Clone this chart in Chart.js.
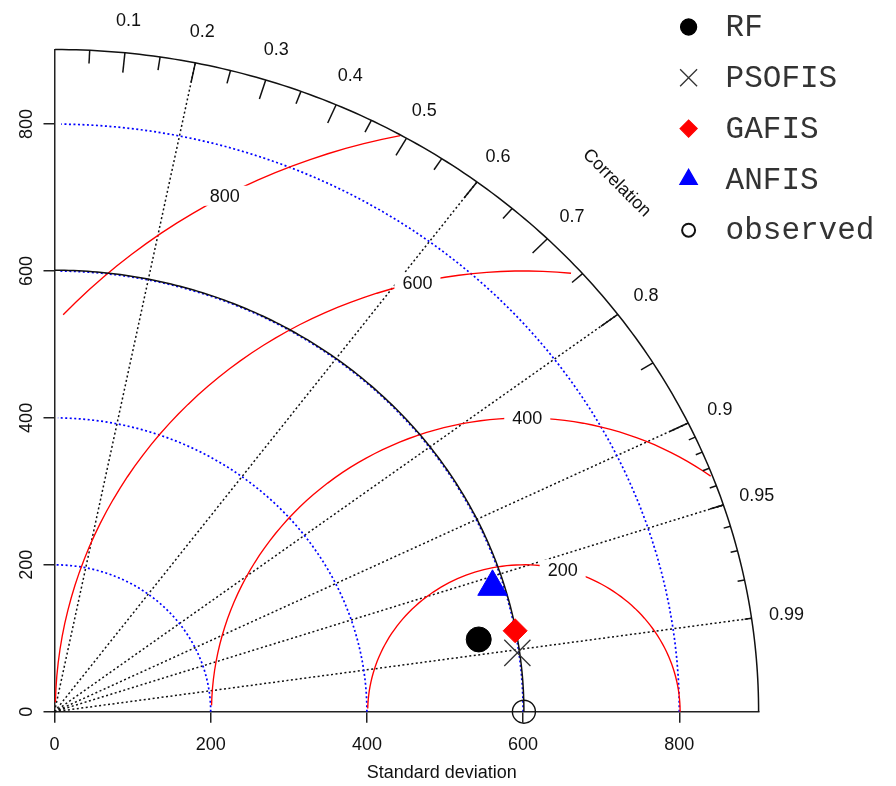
<!DOCTYPE html>
<html lang="en">
  <head>
    <meta charset="UTF-8" />
    <title>Taylor diagram</title>
    <script src="https://cdn.jsdelivr.net/npm/chart.js"></script>
    <style>
      body { margin: 0; background: #fff; }
      #wrap { width: 896px; height: 786px; }
    </style>
  </head>
  <body>
    <div id="wrap"><canvas id="taylor"></canvas></div>

    <script>
      // values
      const modelNames = ['RF', 'PSOFIS', 'GAFIS', 'ANFIS']
      const modelSd = [552, 598, 600, 586]
      const modelCor = [0.984, 0.991, 0.983, 0.957]
      const observedSd = 601
      const sdTicks = [0, 200, 400, 600, 800]
      const corrTickLabels = [0.1, 0.2, 0.3, 0.4, 0.5, 0.6, 0.7, 0.8, 0.9, 0.95, 0.99]
      const corrGridLines = [0.2, 0.6, 0.8, 0.9, 0.95, 0.99]
      const rmsContours = [200, 400, 600, 800]

      const sdMax = 1.5 * observedSd
      const FONT = "'Liberation Sans', Arial, sans-serif"
      const MONO = "'Liberation Mono', 'Courier New', monospace"

      const toXY = (sd, cor) => ({ x: sd * cor, y: sd * Math.sqrt(1 - cor * cor) })

      const modelStyles = [
        { pointStyle: 'circle', pointRadius: 12.5, backgroundColor: '#000', borderColor: '#000', borderWidth: 1, legendRadius: 8 },
        { pointStyle: 'crossRot', pointRadius: 18.5, backgroundColor: '#333', borderColor: '#333', borderWidth: 1.3, legendRadius: 12 },
        { pointStyle: 'rectRot', pointRadius: 12, backgroundColor: '#ff0000', borderColor: '#ff0000', borderWidth: 1, legendRadius: 8.5 },
        { pointStyle: 'triangle', pointRadius: 17, backgroundColor: '#0000ff', borderColor: '#0000ff', borderWidth: 1, legendRadius: 10 },
      ]

      const datasets = modelNames.map((name, i) => ({
        label: name,
        data: [toXY(modelSd[i], modelCor[i])],
        clip: false,
        ...modelStyles[i],
      }))
      datasets.push({
        label: 'observed',
        data: [toXY(observedSd, 1)],
        clip: false,
        pointStyle: 'circle',
        pointRadius: 11.5,
        backgroundColor: 'rgba(0,0,0,0)',
        borderColor: '#111',
        borderWidth: 1.4,
        legendRadius: 6.5,
        legendBorder: 2,
      })

      // Taylor diagram frame: correlation rays, sd arcs, centred RMS contours
      const taylorFrame = {
        id: 'taylorFrame',
        beforeDatasetsDraw(chart) {
          const { ctx, scales: { x: xs, y: ys } } = chart
          const px = (vx, vy) => [xs.getPixelForValue(vx), ys.getPixelForValue(vy)]
          const pt = (r, a) => px(r * Math.cos(a), r * Math.sin(a))
          const poly = (pts) => {
            ctx.beginPath()
            pts.forEach((p, i) => (i ? ctx.lineTo(p[0], p[1]) : ctx.moveTo(p[0], p[1])))
            ctx.stroke()
          }
          const arc = (r, step, n) => {
            const pts = []
            for (let i = 0; i <= n; i++) pts.push(pt(r, step * i))
            return pts
          }
          const label = (text, p, size) => {
            ctx.font = size + 'px ' + FONT
            ctx.textAlign = 'center'
            ctx.textBaseline = 'alphabetic'
            ctx.fillText(text, p[0], p[1] + size * 0.36)
          }

          ctx.save()
          // correlation rays
          ctx.strokeStyle = '#111'
          ctx.lineWidth = 1.5
          ctx.setLineDash([2, 2.5])
          corrGridLines.forEach((c) => poly([pt(0, 0), pt(sdMax, Math.acos(c))]))

          // sd arcs
          ctx.strokeStyle = '#0000ff'
          ctx.lineWidth = 1.7
          sdTicks.forEach((s) => { if (s > 0) poly(arc(s, 0.03, 52)) })

          // centred RMS difference contours
          ctx.setLineDash([])
          ctx.lineWidth = 1.35
          rmsContours.forEach((g, gi) => {
            const xc = [], yc = []
            for (let i = 0; i < 105; i++) {
              xc.push(Math.cos(0.03 * i) * g + observedSd)
              yc.push(Math.sin(0.03 * i) * g)
            }
            let end = xc.findIndex((v) => v < 0)
            end = end >= 0 ? end - 1 : 104
            let start = 0
            for (let i = 0; i < 105; i++) if (xc[i] * xc[i] + yc[i] * yc[i] > sdMax * sdMax) start = i + 1
            const pts = []
            for (let i = start; i <= end; i++) pts.push(px(xc[i], yc[i]))
            ctx.strokeStyle = '#ff0000'
            poly(pts)
            const li = Math.floor(45 + (25 * gi) / (rmsContours.length - 1)) - 1
            if (xc[li] > 0) {
              const p = px(xc[li], yc[li])
              ctx.font = '18px ' + FONT
              const w = ctx.measureText(String(g)).width
              ctx.fillStyle = '#fff'
              ctx.fillRect(p[0] - w / 2 - 8, p[1] - 10, w + 16, 20)
              ctx.fillStyle = '#111'
              label(String(g), p, 18)
            }
          })

          // outer arc and correlation ticks
          ctx.strokeStyle = '#111'
          ctx.lineWidth = 1.5
          poly(arc(sdMax, 0.01, 157))
          const ticks = (vals, frac) => vals.forEach((c) => {
            const a = Math.acos(c)
            poly([pt(sdMax, a), pt(sdMax * frac, a)])
          })
          ticks([0.1, 0.2, 0.3, 0.4, 0.5, 0.6, 0.7, 0.8, 0.9], 0.97)
          ticks([0.05, 0.15, 0.25, 0.35, 0.45, 0.55, 0.65, 0.75, 0.85, 0.95], 0.98)
          ticks([0.91, 0.92, 0.93, 0.94, 0.95, 0.96, 0.97, 0.98, 0.99], 0.99)

          // observed standard deviation arc
          poly(arc(observedSd, 0.01, 157))

          // correlation labels
          ctx.fillStyle = '#111'
          corrTickLabels.forEach((c) => label(String(c), pt(sdMax * 1.05, Math.acos(c)), 18))
          const cp = px(sdMax * 0.8, sdMax * 0.8)
          ctx.translate(cp[0], cp[1])
          ctx.rotate(Math.PI / 4)
          label('Correlation', [0, 0], 18)
          ctx.restore()
        },
        afterDraw(chart) {
          const { ctx, chartArea, scales: { x: xs, y: ys } } = chart
          ctx.save()
          ctx.fillStyle = '#111'
          ctx.font = '18px ' + FONT
          // rotated y tick labels
          sdTicks.forEach((v) => {
            ctx.save()
            ctx.translate(chartArea.left - 23, ys.getPixelForValue(v))
            ctx.rotate(-Math.PI / 2)
            ctx.textAlign = 'center'
            ctx.textBaseline = 'alphabetic'
            ctx.fillText(String(v), 0, 0)
            ctx.restore()
          })
          // x axis title
          ctx.textAlign = 'center'
          ctx.textBaseline = 'middle'
          ctx.fillText('Standard deviation', xs.getPixelForValue(sdMax * 0.55), chartArea.bottom + 61)

          // legend
          const lx = chartArea.right - 70
          chart.data.datasets.forEach((ds, i) => {
            const ly = 27 + i * 50.8
            ctx.fillStyle = ds.backgroundColor
            ctx.strokeStyle = ds.borderColor
            ctx.lineWidth = ds.legendBorder || 1.3
            Chart.helpers.drawPoint(ctx, {
              pointStyle: ds.pointStyle,
              radius: ds.legendRadius,
              rotation: 0,
              borderWidth: ds.legendBorder || 1.3,
            }, lx, ly)
            ctx.fillStyle = '#333'
            ctx.font = '31px ' + MONO
            ctx.textAlign = 'left'
            ctx.textBaseline = 'middle'
            ctx.fillText(ds.label, lx + 37, ly + 1)
          })
          ctx.restore()
        },
      }

      new Chart(document.getElementById('taylor'), {
        type: 'scatter',
        data: { datasets },
        options: {
          responsive: true,
          maintainAspectRatio: false,
          animation: false,
          layout: { padding: { top: 49.5, right: 137.4, left: 0, bottom: 0 } },
          plugins: { legend: { display: false }, tooltip: { enabled: false } },
          scales: {
            x: {
              type: 'linear',
              min: 0,
              max: sdMax,
              afterBuildTicks: (s) => { s.ticks = sdTicks.map((v) => ({ value: v })) },
              afterFit: (s) => { s.height = 74.3 },
              ticks: { color: '#111', font: { family: FONT, size: 18 }, padding: 12, maxRotation: 0 },
              grid: { drawOnChartArea: false, tickLength: 11, color: '#222', lineWidth: 1.5 },
              border: { color: '#222', width: 1.5 },
            },
            y: {
              type: 'linear',
              min: 0,
              max: sdMax,
              afterBuildTicks: (s) => { s.ticks = sdTicks.map((v) => ({ value: v })) },
              afterFit: (s) => { s.width = 54.5 },
              ticks: { display: false },
              grid: { drawOnChartArea: false, tickLength: 11, color: '#222', lineWidth: 1.5 },
              border: { color: '#222', width: 1.5 },
            },
          },
        },
        plugins: [taylorFrame],
      })
    </script>
  </body>
</html>
